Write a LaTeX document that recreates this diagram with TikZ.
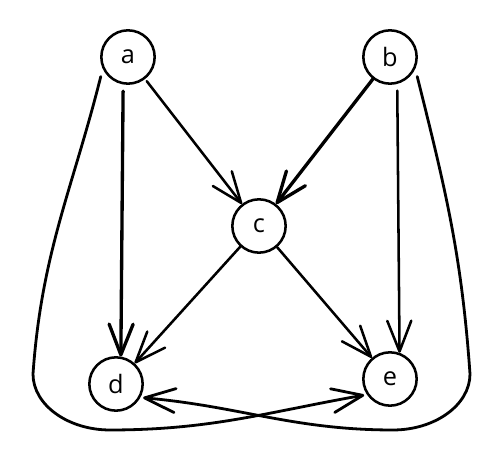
\documentclass[tikz,border=0pt]{standalone}
\usepackage{fontspec}
\setmainfont{Open Sans}
\usetikzlibrary{arrows.meta}
\begin{document}
\begin{tikzpicture}[x=0.75pt,y=0.75pt,
  vert/.style={circle,draw,line width=1.9pt,minimum size=40pt,inner sep=0pt,font=\fontsize{19}{19}\selectfont},
  conn/.style={line width=1.9pt,line cap=round,line join=round,-{Straight Barb[length=23pt,width=18pt,round]}},
  heavy/.style={line width=2.5pt},
  loopline/.style={line width=2.1pt,line cap=round,line join=round,-{Straight Barb[length=23pt,width=18pt,round]}}]
\useasboundingbox (0,0) rectangle (501,459);
\node[vert] (a) at (128,402) {a};
\node[vert] (b) at (390,402) {b};
\node[vert] (c) at (259,233) {c};
\node[vert] (d) at (116,75) {d};
\node[vert] (e) at (390,80) {e};
\draw[conn,shorten <=2pt] (a) -- (c);
\draw[conn,heavy] (b) -- (c);
\draw[conn,heavy,shorten <=5pt] (a.-100) -- (d.80);
\draw[conn,shorten <=5pt] (b.-75) -- (e.70);
\draw[conn] (c) -- (d);
\draw[conn] (c) -- (e);
\draw[loopline,shorten <=6pt,shorten >=2pt] (a.205) to[out=-104,in=86] (33,85)
  .. controls (33,54) and (68,29) .. (110,29) to[out=0,in=190] (e.214);
\draw[loopline,shorten <=6pt,shorten >=2pt] (b.-25) to[out=-76,in=94] (470,85)
  .. controls (470,54) and (435,29) .. (393,29) to[out=180,in=-5] (d.-29);
\end{tikzpicture}
\end{document}
